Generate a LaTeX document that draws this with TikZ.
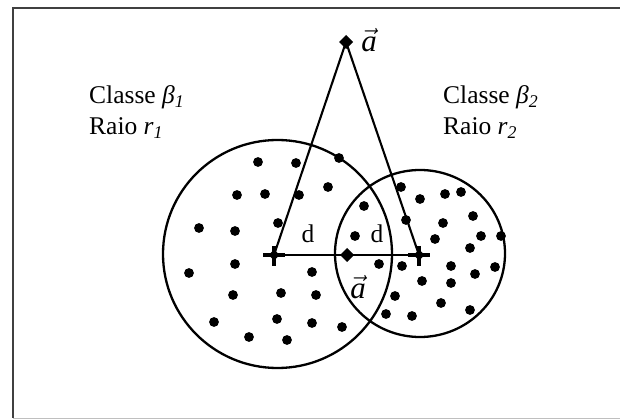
\documentclass[tikz,border=0pt]{standalone}
\usepackage{fix-cm}
\usepackage{fontspec}
\setmainfont{Liberation Serif}
\usetikzlibrary{positioning}

\tikzset{
  ring/.style={line width=2.3pt},
  edge/.style={line width=2.1pt},
  lbl/.style={inner sep=0pt,font=\fontsize{25.5}{30}\selectfont},
  vlbl/.style={inner sep=0pt,font=\fontsize{31}{34}\selectfont},
  plusmark/.pic={
    \draw[line width=3.2pt] (-11,0)--(11,0) (0,-9)--(0,11);
    \fill (-5.5,0)--(0,-5.5)--(5.5,0)--(0,5.5)--cycle;},
  diamark/.pic={\fill (-7,0)--(0,-7)--(7,0)--(0,7)--cycle;}
}

\begin{document}
\begin{tikzpicture}[x=1pt,y=-1pt]
\useasboundingbox (0,0) rectangle (620,419);
% frame
\draw[line width=1.4pt,black!75] (640,8)--(13,8)--(13,418);
\draw[line width=1pt,black!25] (13,418)--(640,418);

% the two classes
\draw[ring] (277.5,254) ellipse [x radius=114.5,y radius=114];
\draw[ring] (420,253.5) ellipse [x radius=85,y radius=83.5];

% samples
\foreach \px/\py in {258/162,296/163,339/158,237/195,265/194,299/195,328/187,
    364/206,278/223,199/228,235/231,355/236,235/264,189/273,312/272,379/264,
    233/295,281/293,316/295,214/322,277/319,312/323,342/327,249/337,287/340,
    401/187,420/199,445/194,461/192,473/216,406/220,443/223,481/236,501/236,
    435/239,470/248,402/266,451/266,495/267,475/274,422/281,451/283,395/296,
    441/303,470/310,386/314,412/316}
  \fill (\px,\py) circle [radius=4.9];

% centres and the sample
\coordinate (c1) at (274,255);
\coordinate (c2) at (419,255);
\coordinate (mid) at (347,255);
\coordinate (top) at (346,42);

\draw[edge] (top)--(c1);
\draw[edge] (top)--(c2);
\draw[edge] (c1)--(c2);

\pic at (c1) {plusmark};
\pic at (c2) {plusmark};
\pic at (mid) {diamark};
\pic at (top) {diamark};

% labels
\node[vlbl] (atop) at (369,40) {$\vec{\textit{a}}$};
\node[vlbl] (alow) at (358,287) {$\vec{\textit{a}}$};
\node[lbl] (d1) at (308,234) {d};
\node[lbl] (d2) at (377,234) {d};

\node[lbl,anchor=west] (classA) at (89,97) {Classe \textit{β}\textsubscript{\textit{1}}};
\node[lbl,anchor=west] (raioA) at (89,128) {Raio \textit{r}\textsubscript{\textit{1}}};
\node[lbl,anchor=west] (classB) at (443,97) {Classe \textit{β}\textsubscript{\textit{2}}};
\node[lbl,anchor=west] (raioB) at (443,128) {Raio \textit{r}\textsubscript{\textit{2}}};
\end{tikzpicture}
\end{document}
